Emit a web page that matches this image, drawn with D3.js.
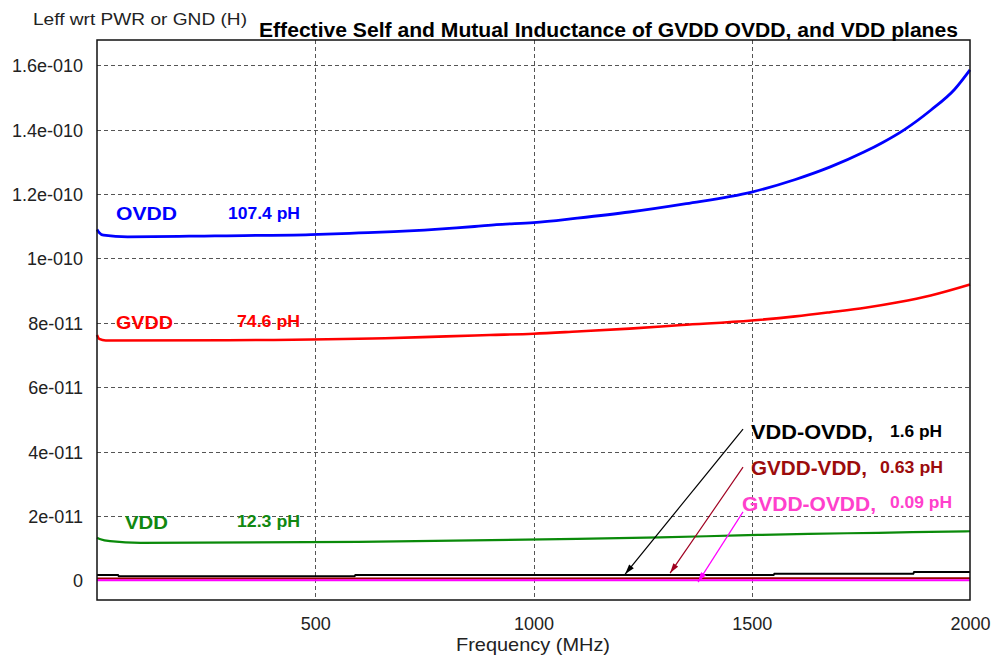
<!DOCTYPE html>
<html><head><meta charset="utf-8">
<script src="https://cdn.jsdelivr.net/npm/d3@7"></script>
<style>body{margin:0;background:#fff}svg{display:block;font-family:"Liberation Sans",Arial,sans-serif}</style>
</head><body><svg id="c" width="994" height="660"></svg>
<script>
// ---- data ----
const title = "Effective Self and Mutual Inductance of GVDD OVDD, and VDD planes";
const yTitle = "Leff wrt PWR or GND (H)";
const xTitle = "Frequency (MHz)";
const yTickValues = [0, 2e-11, 4e-11, 6e-11, 8e-11, 1e-10, 1.2e-10, 1.4e-10, 1.6e-10];
const yTickLabels = ["0", "2e-011", "4e-011", "6e-011", "8e-011", "1e-010", "1.2e-010", "1.4e-010", "1.6e-010"];
const xTickValues = [500, 1000, 1500, 2000];
const xTickLabels = ["500", "1000", "1500", "2000"];

const freqOVDD = [0, 5, 15, 70, 270, 490, 600, 680, 750, 815, 865, 915, 1000, 1100, 1220, 1350, 1500, 1600, 1680, 1757, 1800, 1850, 1910, 1965, 2000];
const valOVDD = [1.09e-10, 1.08e-10, 1.072e-10, 1.067e-10, 1.07e-10, 1.074e-10, 1.079e-10, 1.083e-10, 1.088e-10, 1.094e-10, 1.099e-10, 1.105e-10, 1.111e-10, 1.125e-10, 1.144e-10, 1.170e-10, 1.206e-10, 1.245e-10, 1.284e-10, 1.330e-10, 1.360e-10, 1.400e-10, 1.460e-10, 1.525e-10, 1.585e-10];

const freqGVDD = [0, 5, 20, 300, 660, 800, 900, 1000, 1100, 1220, 1340, 1500, 1600, 1680, 1760, 1835, 1910, 2000];
const valGVDD = [7.62e-11, 7.5e-11, 7.45e-11, 7.46e-11, 7.52e-11, 7.58e-11, 7.62e-11, 7.66e-11, 7.73e-11, 7.82e-11, 7.93e-11, 8.07e-11, 8.2e-11, 8.33e-11, 8.47e-11, 8.64e-11, 8.85e-11, 9.19e-11];

const freqVDD = [0, 8, 30, 100, 600, 1100, 1290, 1470, 1630, 1790, 1950, 2000];
const valVDD = [1.33e-11, 1.28e-11, 1.22e-11, 1.17e-11, 1.2e-11, 1.29e-11, 1.34e-11, 1.4e-11, 1.45e-11, 1.48e-11, 1.52e-11, 1.53e-11];

const freqVDD_OVDD = [0, 48, 50, 590, 592, 1550, 1552, 1870, 1872, 2000];
const valVDD_OVDD = [1.7e-12, 1.7e-12, 1.3e-12, 1.3e-12, 1.7e-12, 1.7e-12, 2.1e-12, 2.1e-12, 2.65e-12, 2.65e-12];

const freqGVDD_VDD = [0, 1000, 2000];
const valGVDD_VDD = [0.6e-12, 0.63e-12, 0.7e-12];

const freqGVDD_OVDD = [0, 2000];
const valGVDD_OVDD = [0.09e-12, 0.09e-12];

// self-inductance labels
const selfNames = ["OVDD", "GVDD", "VDD"];
const selfValues = ["107.4 pH", "74.6 pH", "12.3 pH"];
// mutual-inductance annotations
const mutualNames = ["VDD-OVDD,", "GVDD-VDD,", "GVDD-OVDD,"];
const mutualValues = ["1.6 pH", "0.63 pH", "0.09 pH"];
const arrowFrom = [[1480, 4.70e-11], [1480, 3.52e-11], [1480, 2.13e-11]];
const arrowTo = [[1210, 0.20e-11], [1313, 0.23e-11], [1377, -0.05e-11]];

// ---- chart ----
const svg = d3.select("#c");
const L = 97, R = 970, T = 40, B = 600;
const x = d3.scaleLinear().domain([0, 2000]).range([L, R]);
const y = d3.scaleLinear().domain([-6.05e-12, 1.678e-10]).range([B, T]);

// gridlines
const grid = svg.append("g").attr("stroke", "#555").attr("stroke-dasharray", "4,3").attr("stroke-width", 1);
grid.selectAll("line.h").data(yTickValues.slice(1)).join("line")
  .attr("x1", L).attr("x2", R).attr("y1", d => Math.round(y(d)) + 0.5).attr("y2", d => Math.round(y(d)) + 0.5);
grid.selectAll("line.v").data([500, 1000, 1500]).join("line")
  .attr("y1", T).attr("y2", B).attr("x1", d => Math.round(x(d)) + 0.5).attr("x2", d => Math.round(x(d)) + 0.5);

// axes
const yAxis = svg.append("g").attr("transform", `translate(${L},0)`)
  .call(d3.axisLeft(y).tickValues(yTickValues).tickFormat((d, i) => yTickLabels[i]).tickSize(0).tickPadding(14));
yAxis.select(".domain").remove();
yAxis.selectAll("text").attr("font-size", 18).attr("fill", "#222").attr("font-family", "Liberation Sans, Arial, sans-serif").attr("dy", "0.36em");

const xAxis = svg.append("g").attr("transform", `translate(0,${B})`)
  .call(d3.axisBottom(x).tickValues(xTickValues).tickFormat((d, i) => xTickLabels[i]).tickSize(0).tickPadding(17));
xAxis.select(".domain").remove();
xAxis.selectAll("text").attr("font-size", 18).attr("fill", "#222").attr("font-family", "Liberation Sans, Arial, sans-serif");

// series
const zip = (f, v) => f.map((d, i) => [d, v[i]]);
const smooth = d3.line().x(d => x(d[0])).y(d => y(d[1])).curve(d3.curveMonotoneX);
const straight = d3.line().x(d => x(d[0])).y(d => y(d[1]));
const series = [
  { f: freqVDD, v: valVDD, color: "#0a8a0a", w: 2.2, gen: smooth },
  { f: freqGVDD, v: valGVDD, color: "#ff0000", w: 2.6, gen: smooth },
  { f: freqOVDD, v: valOVDD, color: "#0000ff", w: 2.8, gen: smooth },
  { f: freqVDD_OVDD, v: valVDD_OVDD, color: "#000000", w: 2, gen: straight },
  { f: freqGVDD_VDD, v: valGVDD_VDD, color: "#990000", w: 2, gen: straight },
  { f: freqGVDD_OVDD, v: valGVDD_OVDD, color: "#ff00ff", w: 2, gen: straight }
];
svg.append("g").selectAll("path").data(series).join("path")
  .attr("d", s => s.gen(zip(s.f, s.v))).attr("fill", "none")
  .attr("stroke", s => s.color).attr("stroke-width", s => s.w);

// frame
svg.append("rect").attr("x", L).attr("y", T).attr("width", R - L).attr("height", B - T)
  .attr("fill", "none").attr("stroke", "#111").attr("stroke-width", 1.5);

// titles
svg.append("text").attr("x", 259).attr("y", 37).attr("font-size", 20).attr("font-weight", "bold")
  .attr("textLength", 699).attr("lengthAdjust", "spacingAndGlyphs").text(title);
svg.append("text").attr("x", 33).attr("y", 25).attr("font-size", 17).attr("fill", "#222")
  .attr("textLength", 214).attr("lengthAdjust", "spacingAndGlyphs").text(yTitle);
svg.append("text").attr("x", 456).attr("y", 651).attr("font-size", 19).attr("fill", "#222")
  .attr("textLength", 154).attr("lengthAdjust", "spacingAndGlyphs").text(xTitle);

// self labels
const selfColors = ["#0000ff", "#ff0000", "#118811"];
const selfNameX = [116, 116, 125], selfNameW = [61, 57, 43], selfNameY = [220, 329, 529];
const selfValX = [228, 237, 237], selfValW = [72, 63, 63], selfValY = [218.5, 327, 526.5];
selfNames.forEach((n, i) => {
  svg.append("text").attr("x", selfNameX[i]).attr("y", selfNameY[i]).attr("font-size", 19).attr("font-weight", "bold")
    .attr("fill", selfColors[i]).attr("textLength", selfNameW[i]).attr("lengthAdjust", "spacingAndGlyphs").text(n);
  svg.append("text").attr("x", selfValX[i]).attr("y", selfValY[i]).attr("font-size", 16).attr("font-weight", "bold")
    .attr("fill", selfColors[i]).attr("textLength", selfValW[i]).attr("lengthAdjust", "spacingAndGlyphs").text(selfValues[i]);
});

// mutual annotations
const arrowColors = ["#000000", "#a00020", "#ff00ff"];
const labelColors = ["#000000", "#9c0c0c", "#ff40cc"];
const mNameX = [751, 751, 742], mNameW = [122, 116, 134], mNameY = [439, 475, 511];
const mValX = [890, 880, 890], mValW = [52, 63, 62], mValY = [436.5, 473, 508];
const defs = svg.append("defs");
arrowColors.forEach((c, i) => {
  defs.append("marker").attr("id", "ah" + i).attr("viewBox", "0 0 10 6").attr("refX", 10).attr("refY", 3)
    .attr("markerWidth", 12).attr("markerHeight", 6).attr("markerUnits", "userSpaceOnUse").attr("orient", "auto")
    .append("path").attr("d", "M0,0L10,3L0,6Z").attr("fill", c);
});
mutualNames.forEach((n, i) => {
  svg.append("line").attr("x1", x(arrowFrom[i][0])).attr("y1", y(arrowFrom[i][1]))
    .attr("x2", x(arrowTo[i][0])).attr("y2", y(arrowTo[i][1]))
    .attr("stroke", arrowColors[i]).attr("stroke-width", 1.2).attr("marker-end", `url(#ah${i})`);
  svg.append("text").attr("x", mNameX[i]).attr("y", mNameY[i]).attr("font-size", 21).attr("font-weight", "bold")
    .attr("fill", labelColors[i]).attr("textLength", mNameW[i]).attr("lengthAdjust", "spacingAndGlyphs").text(n);
  svg.append("text").attr("x", mValX[i]).attr("y", mValY[i]).attr("font-size", 16.5).attr("font-weight", "bold")
    .attr("fill", labelColors[i]).attr("textLength", mValW[i]).attr("lengthAdjust", "spacingAndGlyphs").text(mutualValues[i]);
});
</script></body></html>
